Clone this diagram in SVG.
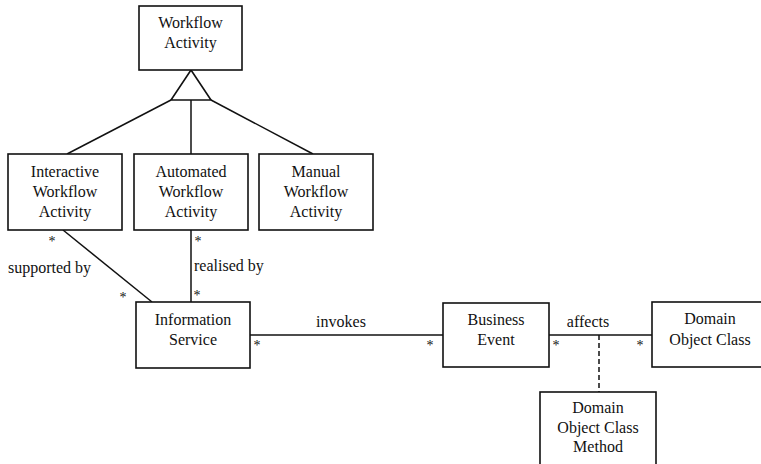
<svg xmlns="http://www.w3.org/2000/svg" width="761" height="464" viewBox="0 0 761 464">
<style>
.box{fill:#fff;stroke:#111;stroke-width:1.6}
.ln{fill:none;stroke:#111;stroke-width:1.5}
.dash{fill:none;stroke:#111;stroke-width:1.5;stroke-dasharray:5,3}
text{font-family:'Liberation Serif','Times New Roman',Tinos,'DejaVu Serif',serif;font-size:16px;fill:#111}
.c{text-anchor:middle}
.m{font-size:14px;text-anchor:middle}
</style>
<rect width="761" height="464" fill="#fff"/>
<g id="connectors" font-family="Liberation Serif, serif">
<line class="ln" x1="171" y1="100" x2="67" y2="154"/>
<line class="ln" x1="191" y1="100" x2="191" y2="154"/>
<line class="ln" x1="211" y1="100" x2="313" y2="154"/>
<polygon class="box" points="191,70 171,100 211,100"/>
<line class="ln" x1="63" y1="230" x2="152" y2="302"/>
<line class="ln" x1="191" y1="230" x2="191" y2="302"/>
<line class="ln" x1="250" y1="335" x2="443" y2="335"/>
<line class="ln" x1="549" y1="335" x2="652" y2="335"/>
<line class="dash" x1="599" y1="335" x2="599" y2="392"/>
<text x="8" y="273">supported by</text>
<text x="194" y="271">realised by</text>
<text class="c" x="341" y="327">invokes</text>
<text class="c" x="588" y="327">affects</text>
<text class="m" x="52" y="246">*</text>
<text class="m" x="123" y="302">*</text>
<text class="m" x="198" y="246">*</text>
<text class="m" x="197" y="300">*</text>
<text class="m" x="257" y="350">*</text>
<text class="m" x="430" y="350">*</text>
<text class="m" x="556" y="350">*</text>
<text class="m" x="640" y="350">*</text>
</g>
<g id="workflow-activity">
<rect class="box" x="139" y="6" width="103" height="64"/>
<text class="c" x="190.5" y="28">Workflow</text>
<text class="c" x="190.5" y="48">Activity</text>
</g>
<g id="interactive">
<rect class="box" x="8" y="154" width="114" height="76"/>
<text class="c" x="65" y="177">Interactive</text>
<text class="c" x="65" y="197">Workflow</text>
<text class="c" x="65" y="217">Activity</text>
</g>
<g id="automated">
<rect class="box" x="134" y="154" width="114" height="76"/>
<text class="c" x="191" y="177">Automated</text>
<text class="c" x="191" y="197">Workflow</text>
<text class="c" x="191" y="217">Activity</text>
</g>
<g id="manual">
<rect class="box" x="259" y="154" width="114" height="76"/>
<text class="c" x="316" y="177">Manual</text>
<text class="c" x="316" y="197">Workflow</text>
<text class="c" x="316" y="217">Activity</text>
</g>
<g id="information-service">
<rect class="box" x="136" y="302" width="114" height="66"/>
<text class="c" x="193" y="325">Information</text>
<text class="c" x="193" y="345">Service</text>
</g>
<g id="business-event">
<rect class="box" x="443" y="303" width="106" height="64"/>
<text class="c" x="496" y="325">Business</text>
<text class="c" x="496" y="345">Event</text>
</g>
<g id="domain-object-class">
<rect class="box" x="652" y="302" width="116" height="65"/>
<text class="c" x="710" y="324">Domain</text>
<text class="c" x="710" y="345">Object Class</text>
</g>
<g id="domain-object-class-method">
<rect class="box" x="540" y="392" width="116" height="80"/>
<text class="c" x="598" y="413">Domain</text>
<text class="c" x="598" y="433">Object Class</text>
<text class="c" x="598" y="452">Method</text>
</g>
</svg>
